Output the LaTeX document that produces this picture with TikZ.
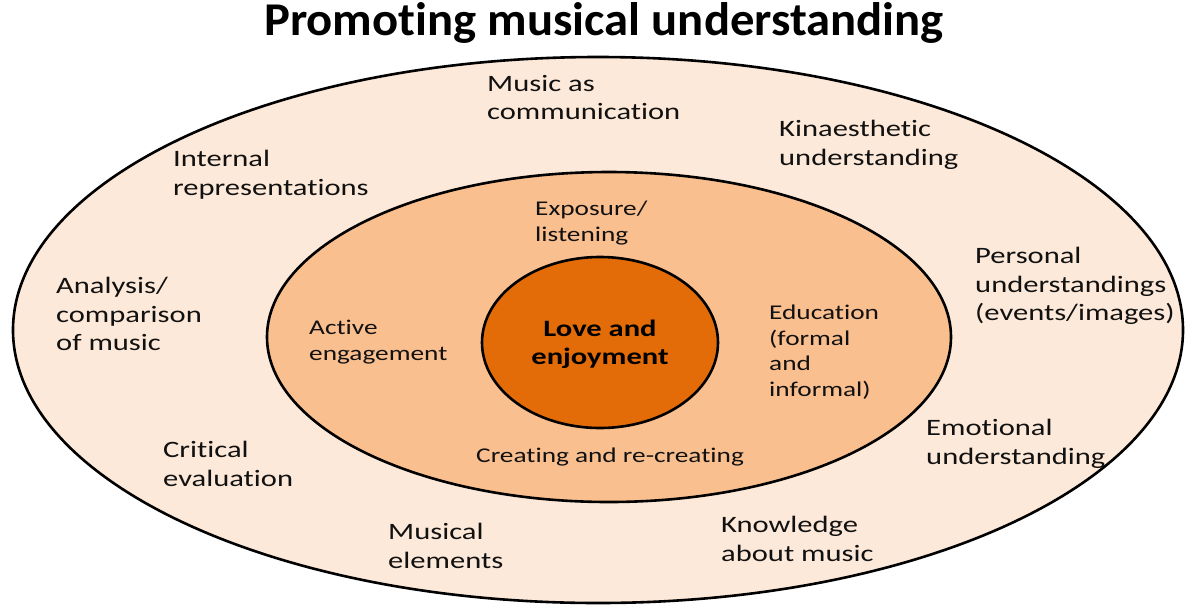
\documentclass[tikz,border=0pt]{standalone}
\usepackage{fontspec}
\setmainfont{Carlito}
\newfontfamily\bodyfont[FakeStretch=1.3,Ligatures=NoCommon]{Carlito}
\newfontfamily\titlefont[FakeStretch=1.035,Ligatures=NoCommon]{Carlito}
\definecolor{outerfill}{HTML}{FDE9D9}
\definecolor{midfill}{HTML}{FABF8F}
\definecolor{innerfill}{HTML}{E36C09}
\definecolor{txt}{HTML}{111111}
\begin{document}
\begin{tikzpicture}[x=1pt,y=-1pt,
  ring/.style={draw=black,line width=2.6pt},
  outertext/.style={anchor=north west,align=left,inner sep=0pt,text=txt,
    font=\bodyfont\fontsize{23.5}{28.5}\selectfont},
  midtext/.style={anchor=north west,align=left,inner sep=0pt,text=txt,
    font=\bodyfont\fontsize{21}{25.5}\selectfont},
  coretext/.style={anchor=center,align=center,inner sep=0pt,text=black,
    font=\bodyfont\bfseries\fontsize{23.5}{28}\selectfont},
  titletext/.style={anchor=center,inner sep=0pt,text=black,
    font=\titlefont\bfseries\fontsize{47}{50}\selectfont}]
\useasboundingbox (0,0) rectangle (1191,606);
\fill[white] (0,0) rectangle (1191,606);
% rings
\draw[ring,fill=outerfill] (598,330) ellipse [x radius=585, y radius=273];
\draw[ring,fill=midfill] (609,337) ellipse [x radius=342, y radius=165];
\draw[ring,fill=innerfill] (600,342.5) ellipse [x radius=118, y radius=85.5];
% title
\node[titletext] (title) at (604,23) {Promoting musical understanding};
% outer ring labels
\node[outertext] (comm) at (487,75) {Music as\\communication};
\node[outertext] (kin) at (779,120) {Kinaesthetic\\understanding};
\node[outertext] (internal) at (173,150) {Internal\\representations};
\node[outertext] (personal) at (975,247) {Personal\\understandings\\(events/images)};
\node[outertext] (analysis) at (56,277) {Analysis/\\comparison\\of music};
\node[outertext] (critical) at (163,441) {Critical\\evaluation};
\node[outertext] (emotional) at (926,419) {Emotional\\understanding};
\node[outertext] (elements) at (388,523) {Musical\\elements};
\node[outertext] (knowledge) at (721,516) {Knowledge\\about music};
% middle ring labels
\node[midtext] (exposure) at (535,201) {Exposure/\\listening};
\node[midtext] (active) at (309,320) {Active\\engagement};
\node[midtext] (education) at (769,305) {Education\\(formal\\and\\informal)};
\node[midtext] (creating) at (476,448) {Creating and re-creating};
% core
\node[coretext] (love) at (600,344) {Love and\\enjoyment};
\end{tikzpicture}
\end{document}
